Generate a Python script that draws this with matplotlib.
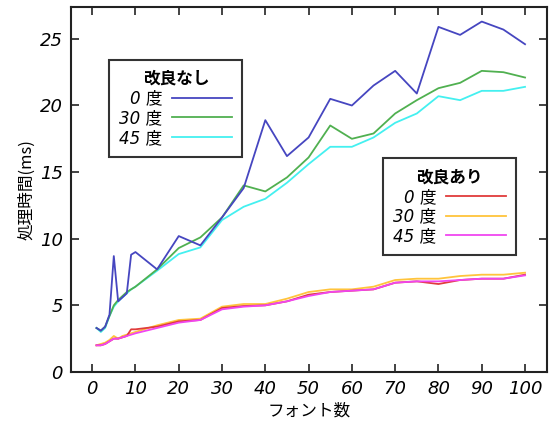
import numpy as np
import matplotlib
matplotlib.use("Agg")
import matplotlib.pyplot as plt

plt.rcParams['font.family'] = ['DejaVu Sans', 'Noto Sans CJK JP']

# font count
fonts = [1, 2, 3, 4, 5, 6, 7, 8, 9, 10, 15, 20, 25, 30, 35, 40, 45, 50,
         55, 60, 65, 70, 75, 80, 85, 90, 95, 100]

# before improvement (ms)
old_0 = [3.3, 3.1, 3.4, 4.3, 8.7, 5.3, 5.6, 5.9, 8.8, 9.0, 7.7, 10.2, 9.5, 11.6,
         13.8, 18.9, 16.2, 17.6, 20.5, 20.0, 21.5, 22.6, 20.9, 25.9, 25.3, 26.3,
         25.7, 24.6]
old_30 = [3.3, 3.1, 3.4, 4.2, 5.0, 5.4, 5.7, 6.0, 6.2, 6.4, 7.7, 9.3, 10.1, 11.6,
          14.0, 13.55, 14.6, 16.1, 18.5, 17.5, 17.9, 19.4, 20.4, 21.3, 21.7, 22.6,
          22.5, 22.1]
old_45 = [3.3, 3.0, 3.3, 4.2, 4.9, 5.3, 5.6, 5.9, 6.2, 6.4, 7.6, 8.85, 9.35, 11.4,
          12.4, 13.0, 14.2, 15.6, 16.9, 16.9, 17.6, 18.7, 19.4, 20.7, 20.4, 21.1,
          21.1, 21.4]

# after improvement (ms)
new_0 = [2.0, 2.0, 2.1, 2.3, 2.5, 2.5, 2.6, 2.7, 3.2, 3.2, 3.4, 3.8, 3.9, 4.8,
         4.95, 5.0, 5.3, 5.8, 6.0, 6.1, 6.2, 6.7, 6.8, 6.6, 6.9, 7.0, 7.0, 7.3]
new_30 = [2.0, 2.1, 2.2, 2.4, 2.7, 2.5, 2.7, 2.8, 2.9, 3.0, 3.5, 3.9, 4.0, 4.9,
          5.1, 5.1, 5.5, 6.0, 6.2, 6.2, 6.4, 6.9, 7.0, 7.0, 7.2, 7.3, 7.3, 7.45]
new_45 = [2.0, 2.0, 2.1, 2.3, 2.5, 2.5, 2.6, 2.7, 2.8, 2.9, 3.3, 3.7, 3.9, 4.7,
          4.9, 5.0, 5.3, 5.7, 6.0, 6.1, 6.2, 6.7, 6.8, 6.8, 6.9, 7.0, 7.0, 7.25]

labels = ["0 度", "30 度", "45 度"]

fig = plt.figure(figsize=(5.56, 4.32), dpi=100)
ax = fig.add_axes([0.128, 0.139, 0.856, 0.845])

lw = 1.3
h1 = []
h1 += ax.plot(fonts, old_0, color="#4646c0", lw=lw, zorder=5)
h1 += ax.plot(fonts, old_30, color="#50b050", lw=lw, zorder=4)
h1 += ax.plot(fonts, old_45, color="#44f0f0", lw=lw, zorder=3)

h2 = []
h2 += ax.plot(fonts, new_0, color="#e03c3c", lw=lw, zorder=4)
h2 += ax.plot(fonts, new_30, color="#ffc43c", lw=lw, zorder=3)
h2 += ax.plot(fonts, new_45, color="#f046f0", lw=lw, zorder=5)

ax.set_xlim(-4.85, 105.1)
ax.set_ylim(0, 27.4)
ax.set_xticks(np.arange(0, 101, 10))
ax.set_yticks(np.arange(0, 26, 5))
ax.tick_params(direction="in", length=6, width=1.2, top=True, right=True,
               labelsize=13, pad=6, color="#222222")
for lab in ax.get_xticklabels() + ax.get_yticklabels():
    lab.set_style("italic")
for sp in ax.spines.values():
    sp.set_linewidth(1.5)
    sp.set_color("#222222")

ax.set_xlabel("フォント数", family=['Noto Sans CJK JP'], fontsize=12, labelpad=3)
ax.set_ylabel("処理時間(ms)", family=['Noto Sans CJK JP'], fontsize=12, labelpad=3)


def make_legend(handles, title, anchor):
    leg = ax.legend(handles, labels, title=title, loc="upper left",
                    bbox_to_anchor=anchor, borderaxespad=0, markerfirst=False,
                    fancybox=False, framealpha=1, edgecolor="#333333",
                    prop={"size": 12, "style": "italic"}, handlelength=3.6,
                    labelspacing=0.1, borderpad=0.6, handletextpad=0.6,
                    title_fontproperties={"size": 12, "weight": "bold",
                                          "family": ['Noto Sans CJK JP']})
    leg.get_frame().set_linewidth(1.5)
    for t in leg.get_texts():
        t.set_ha("right")
    return leg


leg1 = make_legend(h1, "改良なし", (0.08, 0.855))
ax.add_artist(leg1)
make_legend(h2, "改良あり", (0.655, 0.586))

fig.savefig("out.png", dpi=100)
